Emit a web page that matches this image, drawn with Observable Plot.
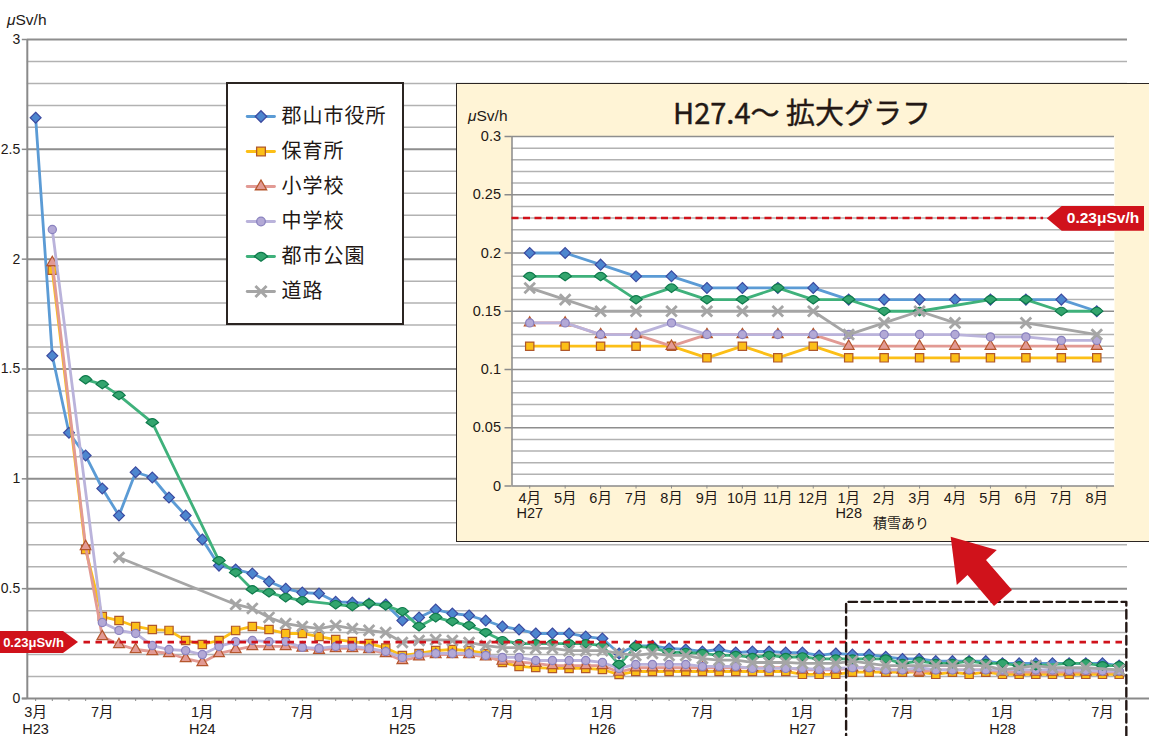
<!DOCTYPE html>
<html><head><meta charset="utf-8">
<script src="https://cdn.jsdelivr.net/npm/d3@7"></script>
<script src="https://cdn.jsdelivr.net/npm/@observablehq/plot@0.6"></script>
<style>
html,body{margin:0;padding:0;background:#fff;}
#page{position:relative;width:1149px;height:736px;overflow:hidden;font-family:"Liberation Sans","Noto Sans CJK JP",sans-serif;color:#231815;}
#page>*{position:absolute;}
#page svg{display:block;}
#panel{left:456px;top:83px;width:700px;height:457px;background:#fff4d6;border:1.5px solid #2b2522;box-sizing:content-box;}
.tag{background:#d0121b;color:#fff;font-weight:bold;display:flex;align-items:center;justify-content:center;white-space:nowrap;}
.unit{white-space:nowrap;font-size:15.5px;line-height:18px;}
#title{left:456px;width:692px;top:93px;text-align:center;font-size:29px;line-height:36px;white-space:nowrap;font-family:"Noto Sans CJK JP","Liberation Sans",sans-serif;-webkit-text-stroke:.4px #231815;}
#note{left:841px;width:120px;top:514px;text-align:center;font-size:14px;line-height:17px;font-family:"Noto Sans CJK JP",sans-serif;}
</style></head><body>
<div id="page"></div>
<script>
// ---------- values (µSv/h) ----------
const seriesNames = ["郡山市役所","保育所","小学校","中学校","都市公園","道路"];

// Main chart, Mar H23 (index 0) to Mar H27 (index 48)
const cityEarly = [2.644,1.56,1.21,1.106,.956,.833,1.03,1.006,.915,.833,
  .724,.605,.587,.569,.533,.50,.482,.478,.44,.437,
  .432,.428,.355,.369,.405,.387,.378,.355,.328,.314,
  .296,.296,.296,.282,.273,.205,.24,.24,.228,.223,
  .214,.223,.209,.214,.214,.209,.209,.196,.205];
const nurseryEarly = [null,1.95,null,.678,.373,.355,.328,.314,.31,.264,
  .246,.264,.31,.328,.314,.296,.296,.282,.268,.259,
  .25,.23,.196,.205,.218,.223,.218,.205,.164,.146,
  .141,.137,.137,.137,.132,.109,.123,.123,.123,.123,
  .123,.123,.123,.123,.123,.123,.11,.11,.11];
const elementaryEarly = [null,1.985,null,.692,.282,.246,.223,.214,.205,.182,
  .164,.205,.223,.237,.237,.237,.23,.22,.228,.228,
  .223,.205,.173,.19,.2,.2,.2,.19,.17,.165,
  .16,.15,.15,.15,.15,.12,.14,.14,.14,.14,
  .14,.14,.14,.14,.14,.14,.13,.13,.13];
const juniorEarly = [null,2.135,null,null,.346,.31,.296,.241,.223,.218,
  .2,.237,.259,.264,.259,.259,.233,.228,.237,.237,
  .228,.214,.187,.2,.205,.205,.205,.196,.187,.187,
  .173,.173,.173,.173,.164,.137,.155,.155,.155,.155,
  .146,.146,.146,.137,.137,.137,.137,.132,.137];
const parkEarly = [null,null,null,1.452,1.43,1.38,null,1.256,null,null,
  null,.628,.573,.496,.482,.46,.446,null,.428,.42,
  .432,.423,.396,.328,.369,.35,.332,.30,.264,.25,
  .25,.25,.25,.25,.241,.155,.237,.232,.21,.21,
  .205,.196,.196,.187,.196,.187,.19,.18,.18];
const roadEarly = [null,null,null,null,null,.642,null,null,null,null,
  null,null,.428,.41,.369,.341,.328,.318,.332,.318,
  .31,.30,.255,.264,.268,.264,.255,.241,.232,.232,
  .228,.228,.218,.218,.218,.205,.196,.205,.196,.196,
  .182,.175,.175,.164,.164,.164,.16,.16,.16];

// Enlarged chart, Apr H27 to Aug H28 (also the last months of the main chart)
const recentMonths = ["4月\nH27","5月","6月","7月","8月","9月","10月","11月","12月","1月\nH28","2月","3月","4月","5月","6月","7月","8月"];
const cityRecent = [.2,.2,.19,.18,.18,.17,.17,.17,.17,.16,.16,.16,.16,.16,.16,.16,.15];
const nurseryRecent = [.12,.12,.12,.12,.12,.11,.12,.11,.12,.11,.11,.11,.11,.11,.11,.11,.11];
const elementaryRecent = [.14,.14,.13,.13,.12,.13,.13,.13,.13,.12,.12,.12,.12,.12,.12,.12,.12];
const juniorRecent = [.14,.14,.13,.13,.14,.13,.13,.13,.13,.13,.13,.13,.13,.128,.128,.125,.125];
const parkRecent = [.18,.18,.18,.16,.17,.16,.16,.17,.16,.16,.15,.15,null,.16,.16,.15,.15];
const roadRecent = [.17,.16,.15,.15,.15,.15,.15,.15,.15,.13,.14,.15,.14,null,.14,null,.13];

// Axis labels of the main chart: month index -> label
const mainTickLabels = new Map([[0,"3月\nH23"],[4,"7月"],[10,"1月\nH24"],[16,"7月"],[22,"1月\nH25"],[28,"7月"],[34,"1月\nH26"],[40,"7月"],[46,"1月\nH27"],[52,"7月"],[58,"1月\nH28"],[64,"7月"]]);
const mainYLabels = [0,.5,1,1.5,2,2.5,3];
const insetYLabels = [0,.05,.1,.15,.2,.25,.3];
const mainLimitLine = 0.257;   // where the red line sits in the main chart
const insetLimitLine = 0.23;
const zoomBox = {x1:48.62,x2:65.43,top:.44,bottom:-.2};

// ---------- styles ----------
const shield = {draw(ctx,size){const R=Math.sqrt(size/Math.PI),w=1.32*R,t=.85*R,b=.95*R;
  ctx.moveTo(-w,0);ctx.quadraticCurveTo(0,-2*t,w,0);ctx.lineTo(0,b);ctx.closePath();}};
const seriesStyle = [
 {stroke:"#5b9bd5",fill:"#4d86cf",edge:"#3c4ba0",symbol:"diamond2",r:4.9,early:cityEarly,recent:cityRecent},
 {stroke:"#fcbf17",fill:"#fcbf17",edge:"#b0582a",symbol:"square",r:4.7,early:nurseryEarly,recent:nurseryRecent},
 {stroke:"#e29a94",fill:"#e29a94",edge:"#b5562d",symbol:"triangle",r:4,early:elementaryEarly,recent:elementaryRecent},
 {stroke:"#bab3db",fill:"#b3a9d6",edge:"#8a82bf",symbol:"circle",r:4.1,early:juniorEarly,recent:juniorRecent},
 {stroke:"#3fb17b",fill:"#33a56e",edge:"#0f7a4c",symbol:shield,r:4.7,early:parkEarly,recent:parkRecent},
 {stroke:"#a5a5a5",fill:"none",edge:"#a5a5a5",symbol:"times",r:4.9,early:roadEarly,recent:roadRecent}
];
const gridDark="#8e8e8e", gridLight="#b2b2b2", axisGray="#8a8a8a", ink="#231815", red="#d0121b";
const fontFamily='"Liberation Sans","Noto Sans CJK JP",sans-serif';

function points(values){return values.map((v,i)=>({i,v})).filter(d=>d.v!=null);}
function seriesMarks(getValues){
  return seriesStyle.flatMap(s=>{
    const pts=points(getValues(s));
    const isX=s.symbol==="times";
    return [
      Plot.line(pts,{x:"i",y:"v",stroke:s.stroke,strokeWidth:2.8,strokeLinejoin:"round"}),
      Plot.dot(pts,{x:"i",y:"v",symbol:s.symbol,r:s.r,fill:s.fill,stroke:s.edge,strokeWidth:isX?2.8:1.2})
    ];
  });
}
const page=document.getElementById("page");
function add(el){page.appendChild(el);return el;}
function html(cls,inner,css){const d=document.createElement("div");if(cls.startsWith("#"))d.id=cls.slice(1);else d.className=cls;d.innerHTML=inner;Object.assign(d.style,css||{});return add(d);}

// ---------- main chart ----------
const mainMonths=d3.range(66);
const mainGrid=d3.range(1,31).map(k=>k/10);
const mainPlot=Plot.plot({
  width:1149,height:736,marginLeft:26.8,marginRight:22,marginTop:39,marginBottom:38,
  style:{fontFamily,background:"transparent",overflow:"hidden"},
  x:{type:"linear",domain:[-.5,65.5]},
  y:{domain:[0,3]},
  marks:[
    Plot.ruleY(mainGrid,{stroke:d=>Math.round(d*10)%5===0?gridDark:gridLight,strokeWidth:d=>Math.round(d*10)%5===0?2:1.5}),
    Plot.axisY({ticks:mainYLabels,tickSize:5,tickPadding:2,stroke:axisGray,strokeWidth:1.5,fill:ink,fontSize:14,label:null,tickFormat:d=>String(d)}),
    Plot.ruleX([-.5],{stroke:axisGray,strokeWidth:2}),
    Plot.ruleY([0],{x1:-.8,x2:67,stroke:axisGray,strokeWidth:2}),
    Plot.axisX({anchor:"bottom",ticks:mainMonths,tickSize:3,tickPadding:3,stroke:axisGray,strokeWidth:1,fill:ink,fontSize:14.5,lineHeight:1.17,label:null,tickFormat:d=>mainTickLabels.get(d)||""}),
    ...seriesMarks(s=>s.early.concat(s.recent)),
    Plot.ruleY([mainLimitLine],{x1:2.9,x2:65.5,stroke:red,strokeWidth:2.7,strokeDasharray:"6.5 5.5"}),
    Plot.line([[zoomBox.x1,zoomBox.bottom],[zoomBox.x1,zoomBox.top],[zoomBox.x2,zoomBox.top],[zoomBox.x2,zoomBox.bottom]],{stroke:ink,strokeWidth:2.4,strokeDasharray:"8.5 4.5"})
  ]
});
mainPlot.style.left="0";mainPlot.style.top="0";add(mainPlot);

html("unit","<i>μ</i>Sv/h",{left:"7px",top:"11px"});
html("tag","0.23μSv/h",{left:"0",top:"631px",width:"78px",height:"22px",fontSize:"13px",paddingRight:"11px",boxSizing:"border-box",
  clipPath:"polygon(0 0,63px 0,78px 50%,63px 100%,0 100%)"});

// ---------- enlarged panel ----------
html("#panel","");
const insetGrid=d3.range(1,31).map(k=>k/100);
const insetMonths=d3.range(17);
const insetPlot=Plot.plot({
  width:1149,height:736,marginLeft:511.5,marginRight:35,marginTop:136,marginBottom:250.5,
  style:{fontFamily,background:"transparent",overflow:"hidden"},
  x:{type:"linear",domain:[-.5,16.5]},
  y:{domain:[0,.3]},
  marks:[
    Plot.frame({fill:"white",stroke:null}),
    Plot.ruleY(insetGrid,{stroke:d=>Math.round(d*100)%5===0?gridDark:gridLight,strokeWidth:1.5}),
    Plot.axisY({ticks:insetYLabels,tickSize:7,tickPadding:4,stroke:axisGray,strokeWidth:1.5,fill:ink,fontSize:14.5,label:null,tickFormat:d=>String(d)}),
    Plot.ruleX([-.5],{stroke:axisGray,strokeWidth:1.5}),
    Plot.ruleY([0],{stroke:axisGray,strokeWidth:1.5}),
    Plot.axisX({anchor:"bottom",ticks:insetMonths,tickSize:3,tickPadding:3,stroke:axisGray,strokeWidth:1,fill:ink,fontSize:14.5,lineHeight:1.05,label:null,tickFormat:i=>recentMonths[i]}),
    Plot.ruleY([insetLimitLine],{x1:-.5,x2:14.5,stroke:red,strokeWidth:2.4,strokeDasharray:"7 4.5"}),
    ...seriesMarks(s=>s.recent)
  ]
});
insetPlot.style.left="0";insetPlot.style.top="0";add(insetPlot);

html("#title","H27.4～ 拡大グラフ");
html("#note","積雪あり");
html("unit","<i>μ</i>Sv/h",{left:"468px",top:"107px"});
html("tag","0.23μSv/h",{left:"1046.7px",top:"206px",width:"97.6px",height:"24.7px",fontSize:"15.5px",paddingLeft:"15px",boxSizing:"border-box",
  clipPath:"polygon(15px 0,100% 0,100% 100%,15px 100%,0 50%)"});

// ---------- arrow ----------
const arrow=document.createElementNS("http://www.w3.org/2000/svg","svg");
arrow.setAttribute("width","1149");arrow.setAttribute("height","736");arrow.style.left="0";arrow.style.top="0";
arrow.innerHTML='<polygon fill="#d0121b" points="950.7,536.7 996.8,550 986,560 1012,590 994,606 967.5,575 956.8,585"/>';
add(arrow);

// ---------- legend ----------
const legendRows=seriesNames.map((name,k)=>({name,k}));
const legendPlot=Plot.plot({
  width:174,height:239,marginTop:0,marginBottom:0,marginLeft:0,marginRight:0,
  style:{fontFamily:'"Noto Sans CJK JP",sans-serif',background:"#fff",overflow:"visible"},
  x:{type:"linear",domain:[0,174],axis:null},
  y:{type:"point",domain:seriesNames,axis:null,padding:0,range:[31,208]},
  marks:[
    ...seriesStyle.flatMap((s,k)=>{
      const isX=s.symbol==="times";
      const name=seriesNames[k];
      return [
        Plot.line([[18.7,name],[46,name]],{stroke:s.stroke,strokeWidth:2.8}),
        Plot.dot([[32.5,name]],{symbol:s.symbol,r:s.r*1.05,fill:s.fill,stroke:s.edge,strokeWidth:isX?2.8:1.3})
      ];
    }),
    Plot.text(legendRows,{x:()=>53,y:"name",text:"name",textAnchor:"start",fontSize:20,fill:ink})
  ]
});
Object.assign(legendPlot.style,{left:"226px",top:"82px",border:"2px solid #2b2522",boxSizing:"content-box"});
legendPlot.style.letterSpacing="1px";
add(legendPlot);
</script>
</body></html>
